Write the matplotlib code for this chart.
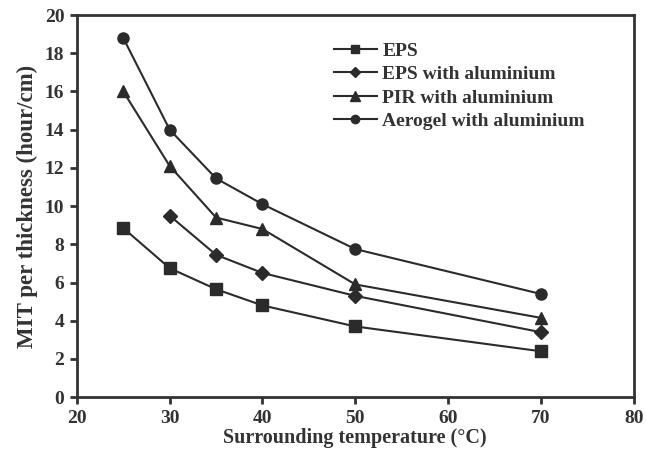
import numpy as np
import matplotlib
matplotlib.use("Agg")
import matplotlib.pyplot as plt

# ---- data ----
temp_eps = [25, 30, 35, 40, 50, 70]
mit_eps = [8.85, 6.75, 5.65, 4.8, 3.7, 2.4]

temp_eps_al = [30, 35, 40, 50, 70]
mit_eps_al = [9.5, 7.45, 6.5, 5.3, 3.4]

temp_pir = [25, 30, 35, 40, 50, 70]
mit_pir = [16.0, 12.1, 9.4, 8.8, 5.9, 4.15]

temp_aero = [25, 30, 35, 40, 50, 70]
mit_aero = [18.8, 14.0, 11.45, 10.1, 7.75, 5.4]

plt.rcParams['font.family'] = ['Liberation Serif', 'DejaVu Serif']
plt.rcParams['font.weight'] = 'bold'

col = '#2b2b2b'
fig = plt.figure(figsize=(6.46, 4.57), dpi=100)
ax = fig.add_axes([0.119, 0.131, 0.862, 0.836])

ax.plot(temp_eps, mit_eps, '-s', color=col, ms=8, lw=1.5, label='EPS')
ax.plot(temp_eps_al, mit_eps_al, '-D', color=col, ms=7, lw=1.5, label='EPS with aluminium')
ax.plot(temp_pir, mit_pir, '-^', color=col, ms=9, lw=1.5, label='PIR with aluminium')
ax.plot(temp_aero, mit_aero, '-o', color=col, ms=8, lw=1.5, label='Aerogel with aluminium')

ax.set_xlim(20, 80)
ax.set_ylim(0, 20)
ax.set_xticks(np.arange(20, 81, 10))
ax.set_yticks(np.arange(0, 21, 2))
for s in ax.spines.values():
    s.set_linewidth(2)
    s.set_color('#333333')
ax.tick_params(direction='out', length=5, width=2, color='#333333',
               labelsize=14, labelcolor='#333333', pad=4)
ax.set_xlabel('Surrounding temperature (°C)', fontsize=14.5, fontweight='bold', color='#333333', labelpad=1)
ax.set_ylabel('MIT per thickness (hour/cm)', fontsize=16.5, fontweight='bold', color='#333333', labelpad=5)

leg = ax.legend(loc='upper left', bbox_to_anchor=(0.43, 0.975), frameon=False,
                fontsize=14, handlelength=2.2, handletextpad=0.3, labelspacing=0.3,
                markerscale=0.75)
for t in leg.get_texts():
    t.set_color('#333333')

plt.savefig('out.png', dpi=100)
